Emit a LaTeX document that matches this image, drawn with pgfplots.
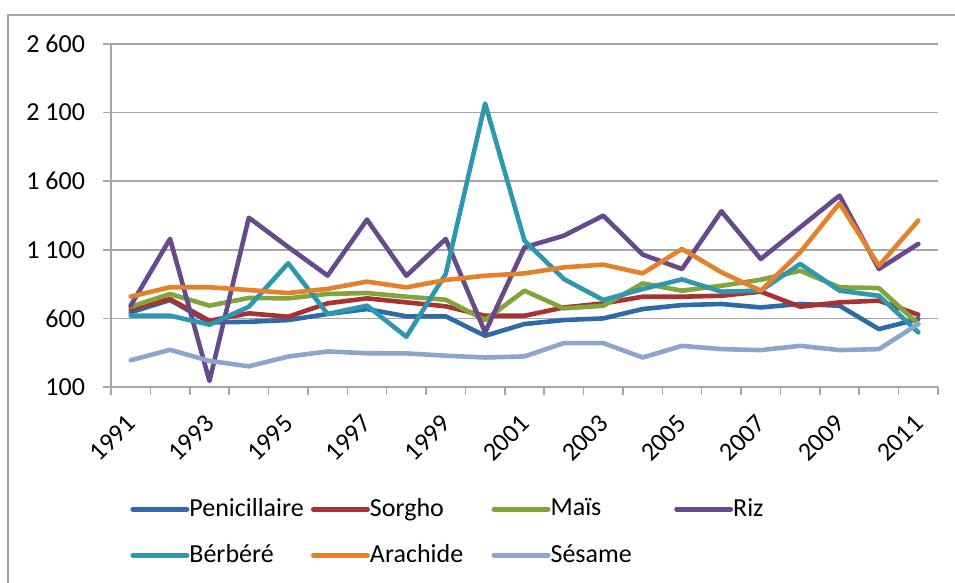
\documentclass[border=0pt]{standalone}
\usepackage{fontspec}
\setmainfont{Carlito}
\usepackage{pgfplots}
\pgfplotsset{compat=1.18}
\usepackage{pgfplotstable}

\definecolor{cPen}{HTML}{2F6AA8}
\definecolor{cSor}{HTML}{A83232}
\definecolor{cMai}{HTML}{80A53B}
\definecolor{cRiz}{HTML}{664A8C}
\definecolor{cBer}{HTML}{2C97AF}
\definecolor{cAra}{HTML}{E3822A}
\definecolor{cSes}{HTML}{8BA5CE}
\definecolor{cGrid}{HTML}{A6A6A6}

\pgfplotstableread{
x  pen sor mai riz  ber  ara  ses
1  644 668 685 693  620  759  295
2  734 741 778 1180 620  827  371
3  571 583 693 144  554  827  290
4  575 637 749 1334 685  807  251
5  588 612 746 1120 1002 785  322
6  632 710 778 912  632  815  359
7  668 746 785 1320 693  868  346
8  615 717 758 911  466  826  345
9  615 688 736 1179 924  880  328
10 473 619 588 498  2166 911  315
11 559 619 802 1118 1167 928  323
12 588 680 673 1203 887  972  420
13 600 709 692 1349 734  992  420
14 668 758 855 1065 814  928  315
15 697 758 802 960  884  1106 400
16 705 765 838 1381 795  936  376
17 680 795 882 1033 802  802  369
18 705 685 948 1264 997  1082 400
19 692 717 826 1495 802  1439 369
20 522 729 821 960  765  984  376
21 595 627 559 1143 498  1313 559
}\datatable

\begin{document}
\fontsize{13pt}{15.6pt}\selectfont
\begin{tikzpicture}
\useasboundingbox (-55.5pt,-98pt) rectangle (422pt,193.5pt);
\draw[color=cGrid, line width=0.75pt] (-51.5pt,-98pt) -- (-51.5pt,186pt) -- (422pt,186pt);
\begin{axis}[
  at={(0pt,0pt)}, anchor=south west,
  scale only axis, width=413.5pt, height=171.5pt,
  xmin=0.5, xmax=21.5, ymin=100, ymax=2600,
  axis lines*=left,
  axis line style={color=cGrid, line width=0.75pt},
  ytick={100,600,1100,1600,2100,2600},
  yticklabels={100,600,1 100,1 600,2 100,2 600},
  ymajorgrids,
  grid style={color=cGrid, line width=0.75pt},
  tick style={color=cGrid, line width=0.75pt},
  tick align=outside,
  major tick length=4pt,
  minor tick length=4pt,
  xtick={1,3,...,21},
  xticklabels={1991,1993,1995,1997,1999,2001,2003,2005,2007,2009,2011},
  major x tick style={draw=none},
  minor xtick={0.5,1.5,...,21.5},
  yticklabel style={font=\fontsize{13pt}{15.6pt}\selectfont, xshift=-4.5pt},
  xticklabel style={font=\fontsize{13pt}{15.6pt}\selectfont, rotate=45, anchor=north east, xshift=-4pt, yshift=0pt},
  every axis plot/.append style={line width=2.3pt, line join=round, line cap=round, no markers},
  legend columns=4,
  legend cell align=left,
  legend style={draw=none, fill=none, at={(axis description cs:0.0157,-0.30)}, anchor=north west,
    font=\fontsize{13pt}{15.6pt}\selectfont, row sep=8pt,
    /tikz/every even column/.append style={column sep=0pt}},
  legend image code/.code={\draw[#1, line cap=round, line width=2.5pt] (0pt,0pt) -- (27pt,0pt);},
]
\addplot[cPen] table[x=x, y=pen] {\datatable};
\addlegendentry{\makebox[56.8pt][l]{\hspace{-2pt}Penicillaire}}
\addplot[cSor] table[x=x, y=sor] {\datatable};
\addlegendentry{\makebox[56.8pt][l]{\hspace{-2pt}Sorgho}}
\addplot[cMai] table[x=x, y=mai] {\datatable};
\addlegendentry{\makebox[57.8pt][l]{\hspace{-2pt}Maïs}}
\addplot[cRiz] table[x=x, y=riz] {\datatable};
\addlegendentry{\makebox[20pt][l]{\hspace{-2pt}Riz}}
\addplot[cBer] table[x=x, y=ber] {\datatable};
\addlegendentry{\makebox[56.8pt][l]{\hspace{-2pt}Bérbéré}}
\addplot[cAra] table[x=x, y=ara] {\datatable};
\addlegendentry{\makebox[56.8pt][l]{\hspace{-2pt}Arachide}}
\addplot[cSes] table[x=x, y=ses] {\datatable};
\addlegendentry{\makebox[57.8pt][l]{\hspace{-2pt}Sésame}}
\end{axis}
\end{tikzpicture}
\end{document}
